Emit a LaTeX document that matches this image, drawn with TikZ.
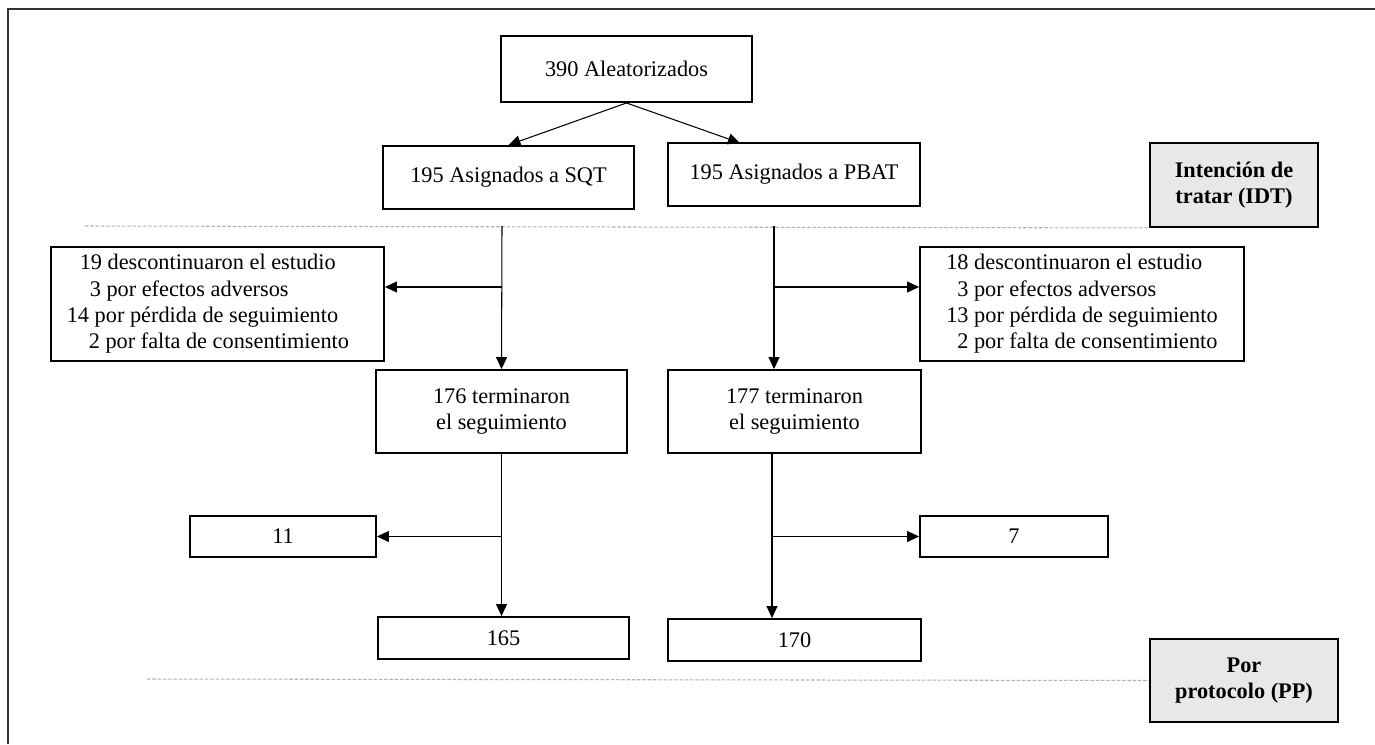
\documentclass[tikz,border=0pt]{standalone}
\usepackage{fontspec}
\setmainfont{Liberation Serif}
\usepackage{tikz}
\usetikzlibrary{arrows.meta}

\begin{document}
\begin{tikzpicture}[x=0.02cm, y=-0.02cm,
    box/.style={draw, line width=1.1pt, inner sep=0pt, align=center, font=\fontsize{12.7}{15}\selectfont},
    tag/.style={box, fill=black!9, font=\fontsize{12.7}{15}\selectfont\bfseries},
    arr/.style={line width=0.6pt, -{Triangle[length=0.24cm, width=0.22cm]}},
    sep/.style={draw=black!30, line width=0.6pt, dash pattern=on 2pt off 1pt}]
    \useasboundingbox (0,0) rectangle (1375,744);
    \draw[line width=1.2pt, black!80] (8,744) -- (8,9) -- (1375,9);

    % randomisation and groups
    \node[box, minimum width=5.02cm, minimum height=1.32cm] (rand) at (626.5,69) {390 Aleatorizados};
    \node[box, minimum width=5.02cm, minimum height=1.26cm] (sqt) at (508.5,177.5) {195 Asignados a SQT};
    \node[box, minimum width=5.04cm, minimum height=1.26cm] (pbat) at (794,174.5) {195 Asignados a PBAT};
    \node[tag, minimum width=3.36cm, minimum height=1.68cm] (idt) at (1234,185) {Intención de\\tratar (IDT)};

    % follow-up
    \node[box, align=left, minimum width=6.66cm, minimum height=2.28cm] (descA) at (217.5,304) {\hspace*{0.26cm}19 descontinuaron el estudio\\\hspace*{0.46cm}3 por efectos adversos\\14 por pérdida de seguimiento\hspace*{0.6cm}\mbox{}\\\hspace*{0.44cm}2 por falta de consentimiento};
    \node[box, align=left, minimum width=6.48cm, minimum height=2.28cm] (descB) at (1082,304) {18 descontinuaron el estudio\\\hspace*{0.22cm}3 por efectos adversos\\13 por pérdida de seguimiento\\\hspace*{0.22cm}2 por falta de consentimiento};
    \node[box, minimum width=5.02cm, minimum height=1.66cm] (finA) at (501.5,411.5) {176 terminaron\\el seguimiento};
    \node[box, minimum width=5.06cm, minimum height=1.66cm] (finB) at (794.5,411.5) {177 terminaron\\el seguimiento};

    % per protocol
    \node[box, minimum width=3.72cm, minimum height=0.82cm] (excA) at (283,536.5) {11};
    \node[box, minimum width=3.76cm, minimum height=0.82cm] (excB) at (1014,536.5) {7};
    \node[box, minimum width=5.02cm, minimum height=0.84cm] (ppA) at (503.5,638) {165};
    \node[box, minimum width=5.06cm, minimum height=0.84cm] (ppB) at (794.5,640) {170};
    \node[tag, minimum width=3.76cm, minimum height=1.66cm] (pp) at (1244,680.5) {Por\\protocolo (PP)};

    \coordinate (sepA) at (85,226);
    \coordinate (sepB) at (147,679);
    \coordinate (pbatin) at (740,143);
    \coordinate (trA) at (502,226);
    \coordinate (trB) at (774,226);
    \coordinate (brA) at (502,287);
    \coordinate (brB) at (774,287);
    \coordinate (trD) at (772,453);

    \draw[sep] (sepA) -- (idt.south west);
    \draw[sep] (sepB) -- (pp.west);

    \draw[arr] (rand.south) -- (sqt.north);
    \draw[arr] (rand.south) -- (pbatin);
    \draw[arr] (trA) -- (finA.north);
    \draw[arr] (trB) -- (trB |- finB.north);
    \draw[arr] (brA) -- (brA -| descA.east);
    \draw[arr] (brB) -- (brB -| descB.west);
    \draw[arr] (finA.south) -- (finA.south |- ppA.north);
    \draw[arr] (finA.south |- excA.east) -- (excA.east);
    \draw[arr] (trD) -- (trD |- ppB.north);
    \draw[arr] (trD |- excB.west) -- (excB.west);
\end{tikzpicture}
\end{document}
